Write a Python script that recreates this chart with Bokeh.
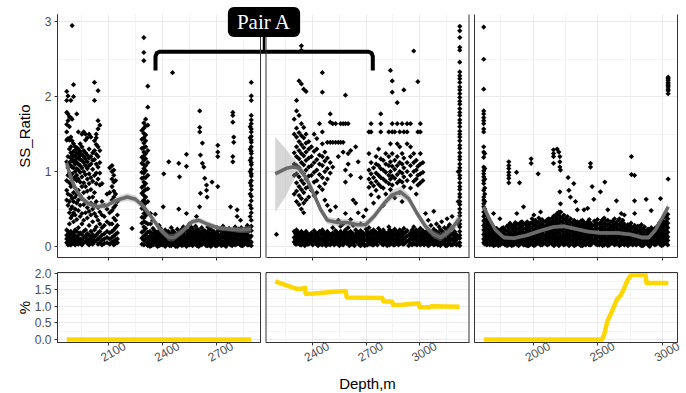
import math
from bokeh.plotting import figure
from bokeh.models import (Range1d, LinearAxis, FixedTicker, Grid, BoxAnnotation,
                          Label, LabelSet, ColumnDataSource, CustomJSTickFormatter)
from bokeh.core.properties import value
from bokeh.embed import file_html
from bokeh.resources import INLINE

# ======================= DATA =======================
# SS_Ratio scatter, one entry per depth column: (depth, [ratios at that depth])
p1_points = [
    (1865, [2.07, 1.95, 1.79, 1.63, 1.53, 1.42, 1.13, 0.88, 0.75, 0.62, 0.22, 0.15, 0.10, 0.05]),
    (1872, [2.01, 1.77, 1.68, 1.44, 1.20, 1.05, 0.95, 0.70, 0.55, 0.20, 0.12, 0.06, 0.02]),
    (1880, [1.73, 1.60, 1.42, 1.30, 1.12, 0.98, 0.85, 0.60, 0.45, 0.30, 0.17, 0.09, 0.03]),
    (1888, [1.95, 1.72, 1.46, 1.33, 1.25, 1.18, 1.08, 0.92, 0.80, 0.68, 0.50, 0.38, 0.20, 0.13, 0.07, 0.02]),
    (1895, [2.95, 1.70, 1.41, 1.22, 1.15, 1.06, 0.97, 0.83, 0.64, 0.53, 0.41, 0.16, 0.10, 0.04]),
    (1903, [2.16, 2.00, 1.37, 1.27, 1.20, 1.13, 1.05, 0.90, 0.72, 0.60, 0.45, 0.33, 0.18, 0.11, 0.05]),
    (1912, [1.33, 1.28, 1.22, 1.15, 1.10, 1.00, 0.93, 0.78, 0.66, 0.50, 0.42, 0.22, 0.14, 0.08, 0.02]),
    (1921, [1.77, 1.32, 1.25, 1.19, 1.12, 1.04, 0.95, 0.88, 0.70, 0.58, 0.36, 0.20, 0.12, 0.06]),
    (1930, [1.53, 1.30, 1.24, 1.18, 1.10, 1.02, 0.90, 0.75, 0.62, 0.48, 0.25, 0.15, 0.08, 0.03]),
    (1940, [1.37, 1.27, 1.21, 1.16, 1.08, 0.99, 0.86, 0.68, 0.55, 0.40, 0.18, 0.10, 0.05]),
    (1950, [1.50, 1.33, 1.23, 1.15, 1.05, 0.93, 0.80, 0.64, 0.44, 0.30, 0.16, 0.09, 0.02]),
    (1960, [1.53, 1.28, 1.20, 1.12, 1.00, 0.85, 0.72, 0.56, 0.35, 0.20, 0.12, 0.05]),
    (1970, [1.50, 1.42, 1.25, 1.17, 1.08, 0.96, 0.80, 0.60, 0.45, 0.22, 0.14, 0.07]),
    (1980, [1.45, 1.22, 1.13, 1.04, 0.90, 0.74, 0.52, 0.38, 0.17, 0.10, 0.04]),
    (1990, [1.50, 1.30, 1.18, 1.08, 0.97, 0.84, 0.65, 0.47, 0.28, 0.15, 0.08, 0.02]),
    (2000, [1.46, 1.20, 1.10, 0.92, 0.76, 0.58, 0.42, 0.20, 0.12, 0.06]),
    (2010, [1.25, 1.15, 1.03, 0.87, 0.66, 0.50, 0.33, 0.16, 0.09, 0.03]),
    (2020, [2.19, 1.95, 1.41, 1.28, 1.16, 0.95, 0.72, 0.56, 0.44, 0.22, 0.13, 0.06]),
    (2030, [1.50, 1.45, 1.36, 1.23, 1.10, 0.98, 0.84, 0.60, 0.40, 0.26, 0.15, 0.08]),
    (2040, [2.08, 1.68, 1.57, 1.33, 1.20, 1.06, 0.90, 0.52, 0.35, 0.18, 0.10, 0.03]),
    (2050, [1.62, 1.28, 1.12, 0.98, 0.82, 0.46, 0.30, 0.20, 0.12, 0.05]),
    (2062, [0.84, 0.60, 0.42, 0.25, 0.15, 0.08, 0.02]),
    (2075, [0.55, 0.40, 0.28, 0.17, 0.10, 0.04]),
    (2090, [0.70, 0.50, 0.33, 0.20, 0.12, 0.05]),
    (2105, [1.05, 0.72, 0.45, 0.30, 0.18, 0.10, 0.03]),
    (2118, [1.08, 1.00, 0.90, 0.80, 0.62, 0.48, 0.30, 0.20, 0.12, 0.06]),
    (2128, [1.02, 0.95, 0.86, 0.74, 0.66, 0.52, 0.38, 0.22, 0.14, 0.07, 0.02]),
    (2138, [0.88, 0.70, 0.55, 0.35, 0.25, 0.16, 0.09, 0.04]),
    (2148, [0.60, 0.42, 0.28, 0.18, 0.10, 0.05]),
    (2230, [0.24]),
    (2285, [1.55, 1.43, 1.31, 1.19, 1.11, 0.99, 0.91, 0.79, 0.71, 0.59, 0.51, 0.39, 0.31, 0.19, 0.11, 0.03]),
    (2296, [2.79, 2.59, 2.48, 1.65, 1.58, 1.51, 1.45, 1.38, 1.32, 1.26, 1.21, 1.15, 1.09, 1.04, 0.98, 0.92,
            0.86, 0.81, 0.74, 0.68, 0.62, 0.56, 0.51, 0.44, 0.38, 0.33, 0.26, 0.21, 0.14, 0.08, 0.02]),
    (2306, [1.70, 1.61, 1.49, 1.41, 1.33, 1.24, 1.17, 1.08, 1.01, 0.92, 0.84, 0.76, 0.66, 0.58, 0.48, 0.41,
            0.32, 0.24, 0.16, 0.10, 0.04]),
    (2318, [2.14, 1.86, 1.62, 1.28, 1.12, 0.95, 0.77, 0.60, 0.45, 0.30, 0.19, 0.12, 0.06, 0.01]),
    (2330, [0.20, 0.14, 0.09, 0.04, 0.00]), (2333, [0.44, 0.30]), (2345, [0.35]),
    (2347, [0.24, 0.17, 0.11, 0.06, 0.02]), (2360, [0.43]), (2364, [0.19, 0.13, 0.08, 0.03]),
    (2381, [0.28, 0.21, 0.15, 0.10, 0.05, 0.01]), (2398, [0.18, 0.12, 0.07, 0.02]),
    (2404, [0.53]), (2407, [0.97]), (2415, [0.22, 0.16, 0.10, 0.05, 0.00]),
    (2432, [0.20, 0.14, 0.09, 0.03]), (2435, [1.13]), (2449, [0.25, 0.17, 0.12, 0.06, 0.01]),
    (2456, [2.32]), (2466, [0.19, 0.13, 0.08, 0.02]), (2483, [0.23, 0.16, 0.10, 0.05, 0.00]),
    (2491, [1.11, 0.50]), (2495, [0.93]), (2500, [0.20, 0.15, 0.09, 0.04]),
    (2517, [0.26, 0.18, 0.12, 0.07, 0.02]), (2534, [1.23, 1.07, 0.44, 0.21, 0.15, 0.10, 0.05, 0.00]),
    (2551, [0.30, 0.22, 0.16, 0.11, 0.06, 0.02]), (2568, [0.24, 0.17, 0.12, 0.07, 0.01]),
    (2585, [0.27, 0.20, 0.14, 0.08, 0.03]), (2590, [0.40]),
    (2602, [0.22, 0.16, 0.10, 0.05, 0.00]), (2607, [0.53]), (2608, [1.81, 1.59, 1.53]),
    (2612, [1.22, 0.71]), (2619, [0.25, 0.18, 0.12, 0.06, 0.02]), (2623, [1.38, 1.11]),
    (2631, [1.06]), (2636, [0.91, 0.21, 0.15, 0.09, 0.04]), (2646, [0.82, 0.75]), (2649, [0.66]),
    (2653, [0.26, 0.19, 0.13, 0.07, 0.01]), (2670, [0.23, 0.16, 0.10, 0.05, 0.00]),
    (2677, [0.86]), (2687, [0.20, 0.14, 0.09, 0.03]),
    (2704, [0.25, 0.18, 0.12, 0.06, 0.01]), (2709, [1.35, 1.26, 1.20, 0.80]),
    (2721, [0.22, 0.15, 0.10, 0.04]), (2738, [0.27, 0.19, 0.13, 0.07, 0.02]),
    (2755, [0.21, 0.15, 0.09, 0.04, 0.00]), (2772, [0.24, 0.17, 0.11, 0.05]),
    (2780, [0.53]), (2789, [0.22, 0.16, 0.10, 0.05, 0.01]),
    (2793, [1.79, 1.75, 1.66, 1.20, 1.13]), (2798, [1.46, 1.39]),
    (2806, [0.26, 0.19, 0.12, 0.07, 0.02]), (2817, [0.49, 0.40]),
    (2823, [0.23, 0.16, 0.10, 0.04]), (2836, [0.35]), (2840, [0.25, 0.18, 0.12, 0.06, 0.01]),
    (2857, [0.21, 0.15, 0.09, 0.03]), (2874, [0.28, 0.20, 0.14, 0.08, 0.02]),
    (2890, [1.60, 1.45, 1.30, 1.15, 1.00, 0.85, 0.70, 0.55, 0.40, 0.25, 0.12, 0.04]),
    (2896, [2.19, 2.01, 1.95, 1.75, 1.69, 1.64, 1.57, 1.53, 1.47, 1.42, 1.39, 1.33, 1.27, 1.24, 1.18, 1.12,
            1.09, 1.03, 0.97, 0.94, 0.88, 0.81, 0.76, 0.67, 0.61, 0.51, 0.45, 0.35, 0.27, 0.21, 0.14, 0.06, 0.01]),
]
# extra columns inside the solid low band of panel 1
p1_band_fill = [
    (2338, [0.17, 0.11, 0.06, 0.01]), (2355, [0.21, 0.14, 0.08, 0.03]), (2372, [0.16, 0.10, 0.05, 0.00]),
    (2389, [0.24, 0.18, 0.12, 0.07, 0.02]), (2406, [0.15, 0.09, 0.04]), (2423, [0.19, 0.13, 0.07, 0.02]),
    (2440, [0.17, 0.11, 0.06, 0.01]), (2457, [0.21, 0.15, 0.09, 0.03]), (2474, [0.16, 0.10, 0.05, 0.00]),
    (2491, [0.19, 0.13, 0.07, 0.02]), (2508, [0.23, 0.17, 0.12, 0.06, 0.01]), (2525, [0.22, 0.15, 0.09, 0.03]),
    (2542, [0.18, 0.12, 0.07, 0.02]), (2559, [0.26, 0.19, 0.13, 0.08, 0.03]), (2576, [0.20, 0.14, 0.09, 0.04]),
    (2593, [0.23, 0.17, 0.11, 0.05, 0.01]), (2610, [0.19, 0.13, 0.07, 0.02]), (2627, [0.21, 0.15, 0.09, 0.04]),
    (2644, [0.18, 0.12, 0.06, 0.01]), (2661, [0.22, 0.16, 0.10, 0.04]), (2678, [0.19, 0.13, 0.07, 0.02]),
    (2695, [0.17, 0.11, 0.06, 0.01]), (2712, [0.21, 0.15, 0.09, 0.03]), (2729, [0.24, 0.17, 0.12, 0.06, 0.01]),
    (2746, [0.18, 0.12, 0.07, 0.02]), (2763, [0.20, 0.14, 0.08, 0.03]), (2780, [0.19, 0.13, 0.07, 0.02]),
    (2797, [0.22, 0.16, 0.10, 0.04]), (2814, [0.20, 0.14, 0.08, 0.03]), (2831, [0.21, 0.15, 0.09, 0.03]),
    (2848, [0.18, 0.12, 0.06, 0.01]), (2865, [0.24, 0.17, 0.11, 0.05]), (2882, [0.20, 0.14, 0.08, 0.02]),
]

p2_points = [
    (2200, [0.16]),
    (2299, [1.70, 1.50, 1.25, 1.10, 0.95, 0.70, 0.20, 0.12, 0.06]),
    (2312, [1.95, 1.81, 1.58, 1.46, 1.33, 1.20, 1.08, 0.97, 0.85, 0.74, 0.60, 0.22, 0.15, 0.08, 0.03]),
    (2326, [2.21, 1.75, 1.52, 1.40, 1.28, 1.17, 1.05, 0.93, 0.80, 0.68, 0.56, 0.18, 0.11, 0.05]),
    (2339, [2.68, 2.62, 2.17, 1.64, 1.48, 1.36, 1.24, 1.12, 1.00, 0.88, 0.76, 0.64, 0.50, 0.20, 0.14, 0.07, 0.02]),
    (2352, [2.10, 1.59, 1.45, 1.32, 1.21, 1.09, 0.97, 0.84, 0.72, 0.58, 0.45, 0.17, 0.10, 0.04]),
    (2365, [2.07, 1.50, 1.38, 1.26, 1.15, 1.02, 0.90, 0.78, 0.62, 0.20, 0.13, 0.06]),
    (2380, [1.40, 1.30, 1.18, 1.06, 0.94, 0.80, 0.66, 0.16, 0.09, 0.03]),
    (2395, [1.33, 1.20, 1.08, 0.95, 0.75, 0.18, 0.11, 0.05]),
    (2410, [1.50, 1.27, 1.12, 0.99, 0.86, 0.68, 0.21, 0.14, 0.07]),
    (2425, [1.44, 1.30, 1.16, 1.02, 0.88, 0.72, 0.17, 0.10, 0.03]),
    (2440, [1.64, 1.22, 1.10, 0.96, 0.80, 0.20, 0.12, 0.05]),
    (2456, [2.32, 2.06, 1.53, 1.37, 1.20, 1.08, 0.92, 0.76, 0.22, 0.15, 0.08, 0.02]),
    (2470, [1.26, 1.14, 1.00, 0.84, 0.62, 0.18, 0.11, 0.04]),
    (2484, [1.39, 1.18, 1.04, 0.90, 0.55, 0.20, 0.13, 0.06]),
    (2500, [1.77, 1.66, 1.39, 1.12, 0.98, 0.48, 0.16, 0.09, 0.02]),
    (2514, [1.64, 1.39, 1.06, 0.25, 0.18, 0.11, 0.05]),
    (2530, [1.64, 1.39, 0.53, 0.21, 0.14, 0.07]),
    (2545, [1.39, 1.20, 0.35, 0.17, 0.10, 0.03]),
    (2558, [1.64, 1.39, 0.27, 0.20, 0.13, 0.06]),
    (2572, [1.64, 1.39, 1.26, 0.30, 0.16, 0.09, 0.02]),
    (2585, [2.02, 1.64, 1.02, 0.86, 0.44, 0.22, 0.14, 0.07]),
    (2600, [1.64, 1.24, 1.10, 0.25, 0.18, 0.11, 0.04]),
    (2614, [1.28, 0.95, 0.36, 0.20, 0.13, 0.06]),
    (2628, [0.62, 0.28, 0.17, 0.10, 0.03]),
    (2642, [1.33, 0.58, 0.22, 0.15, 0.08]),
    (2656, [1.13, 0.45, 0.19, 0.12, 0.05]),
    (2670, [0.92, 0.30, 0.21, 0.14, 0.07, 0.01]),
    (2685, [0.40, 0.18, 0.11, 0.04]),
    (2700, [0.49, 0.23, 0.16, 0.09, 0.02]),
    (2716, [1.53, 1.24, 1.02, 0.90, 0.79, 0.25, 0.17, 0.10, 0.05]),
    (2728, [1.64, 1.53, 1.12, 0.97, 0.85, 0.69, 0.20, 0.13, 0.06]),
    (2742, [1.05, 0.92, 0.81, 0.58, 0.22, 0.15, 0.08, 0.02]),
    (2756, [1.20, 1.10, 0.98, 0.87, 0.75, 0.19, 0.12, 0.05]),
    (2770, [1.30, 1.08, 0.95, 0.83, 0.66, 0.24, 0.16, 0.09]),
    (2782, [1.77, 1.64, 1.53, 1.17, 1.04, 0.92, 0.80, 0.20, 0.13, 0.06]),
    (2796, [1.15, 1.02, 0.90, 0.78, 0.55, 0.22, 0.15, 0.08, 0.02]),
    (2810, [1.24, 1.10, 0.99, 0.87, 0.70, 0.18, 0.11, 0.04]),
    (2827, [1.53, 1.20, 1.08, 0.95, 0.84, 0.26, 0.19, 0.12, 0.05]),
    (2836, [2.35, 1.37, 1.13, 1.00, 0.90, 0.76, 0.21, 0.14, 0.07]),
    (2846, [2.21, 2.06, 1.64, 1.53, 1.24, 1.07, 0.94, 0.82, 0.20, 0.13, 0.06]),
    (2860, [1.53, 1.15, 1.03, 0.91, 0.65, 0.23, 0.16, 0.09, 0.02]),
    (2874, [1.92, 1.64, 1.37, 1.20, 1.08, 0.96, 0.85, 0.19, 0.12, 0.05]),
    (2888, [1.53, 1.33, 1.12, 1.00, 0.88, 0.72, 0.22, 0.15, 0.08]),
    (2901, [1.64, 1.24, 1.10, 0.98, 0.86, 0.60, 0.20, 0.13, 0.06]),
    (2911, [2.09, 1.53, 1.18, 1.05, 0.93, 0.80, 0.24, 0.17, 0.10, 0.03]),
    (2929, [1.64, 1.53, 1.37, 1.12, 1.00, 0.88, 0.21, 0.14, 0.07]),
    (2948, [1.64, 1.33, 1.20, 1.08, 0.95, 0.78, 0.18, 0.11, 0.04]),
    (2966, [2.61, 1.24, 1.12, 1.00, 0.87, 0.26, 0.19, 0.12, 0.05]),
    (2980, [1.15, 1.02, 0.90, 0.70, 0.22, 0.15, 0.08]),
    (2989, [2.20, 1.53, 1.07, 0.95, 0.82, 0.20, 0.13, 0.06]),
    (3003, [1.64, 1.53, 1.24, 1.10, 0.97, 0.85, 0.24, 0.16, 0.09, 0.02]),
    (3017, [1.12, 0.99, 0.88, 0.21, 0.14, 0.07]),
    (3032, [0.44, 0.19, 0.12, 0.05]),
    (3047, [0.35, 0.22, 0.15, 0.08, 0.01]),
    (3062, [0.28, 0.18, 0.11, 0.04]),
    (3078, [0.47, 0.23, 0.16, 0.09, 0.02]),
    (3093, [0.30, 0.20, 0.13, 0.06]),
    (3108, [0.26, 0.17, 0.10, 0.03]),
    (3122, [0.33, 0.21, 0.14, 0.07]),
    (3137, [0.25, 0.18, 0.11, 0.04]),
    (3152, [0.37, 0.22, 0.15, 0.08, 0.01]),
    (3166, [0.29, 0.19, 0.12, 0.05]),
    (3180, [0.40, 0.24, 0.16, 0.09, 0.02]),
    (3194, [0.20, 0.13, 0.06]),
    (3214, [1.00, 0.60, 0.30, 0.12, 0.04]),
    (3223, [2.94, 2.88, 2.79, 2.66, 2.62, 2.46, 2.33, 2.28, 2.24, 2.19, 2.13, 2.09, 2.04, 1.99, 1.94, 1.90,
            1.84, 1.79, 1.75, 1.69, 1.65, 1.60, 1.54, 1.50, 1.46, 1.41, 1.35, 1.31, 1.25, 1.20, 1.16, 1.10,
            1.05, 1.01, 0.95, 0.91, 0.85, 0.80, 0.76, 0.70, 0.66, 0.60, 0.56, 0.50, 0.45, 0.41, 0.35, 0.30,
            0.26, 0.20, 0.15, 0.11, 0.05, 0.01]),
]
p2_band_fill = [
    (2306, [0.17, 0.09, 0.03]), (2319, [0.19, 0.12, 0.05]), (2332, [0.16, 0.08, 0.02]),
    (2346, [0.17, 0.11, 0.04]), (2358, [0.15, 0.07, 0.01]), (2372, [0.17, 0.10, 0.03]),
    (2388, [0.13, 0.06]), (2402, [0.15, 0.08, 0.02]), (2418, [0.18, 0.11, 0.04]),
    (2432, [0.14, 0.07, 0.01]), (2448, [0.17, 0.09, 0.03]), (2463, [0.19, 0.12, 0.05]),
    (2477, [0.15, 0.08, 0.01]), (2492, [0.17, 0.10, 0.03]), (2507, [0.13, 0.06]),
    (2522, [0.15, 0.08, 0.02]), (2537, [0.18, 0.11, 0.04]), (2551, [0.14, 0.07, 0.01]),
    (2565, [0.17, 0.10, 0.03]), (2578, [0.19, 0.12, 0.05]), (2592, [0.18, 0.11, 0.04]),
    (2607, [0.15, 0.08, 0.01]), (2621, [0.17, 0.10, 0.03]), (2635, [0.14, 0.07, 0.01]),
    (2649, [0.19, 0.12, 0.05]), (2663, [0.16, 0.09, 0.02]), (2678, [0.18, 0.11, 0.04]),
    (2692, [0.15, 0.08, 0.01]), (2708, [0.20, 0.13, 0.07, 0.02]), (2722, [0.17, 0.10, 0.03]),
    (2735, [0.16, 0.09, 0.02]), (2749, [0.19, 0.12, 0.05]), (2763, [0.16, 0.09, 0.02]),
    (2776, [0.20, 0.13, 0.06]), (2789, [0.17, 0.10, 0.03]), (2803, [0.18, 0.11, 0.05]),
    (2818, [0.15, 0.08, 0.01]), (2831, [0.22, 0.15, 0.09, 0.02]), (2841, [0.18, 0.10, 0.04]),
    (2853, [0.16, 0.09, 0.02]), (2867, [0.20, 0.13, 0.06]), (2881, [0.16, 0.08, 0.02]),
    (2894, [0.18, 0.11, 0.04]), (2906, [0.17, 0.10, 0.03]), (2920, [0.19, 0.12, 0.05]),
    (2938, [0.15, 0.08, 0.01]), (2957, [0.22, 0.15, 0.09, 0.02]), (2973, [0.17, 0.10, 0.03]),
    (2984, [0.16, 0.09, 0.02]), (2996, [0.20, 0.13, 0.06]), (3010, [0.18, 0.11, 0.04]),
    (3024, [0.16, 0.09, 0.02]), (3039, [0.18, 0.12, 0.05]), (3054, [0.15, 0.08, 0.02]),
    (3070, [0.20, 0.13, 0.06]), (3085, [0.17, 0.10, 0.03]), (3100, [0.16, 0.09, 0.02]),
    (3115, [0.22, 0.14, 0.07, 0.01]), (3129, [0.18, 0.11, 0.04]), (3144, [0.15, 0.08, 0.01]),
    (3159, [0.26, 0.18, 0.11, 0.04]), (3173, [0.16, 0.09, 0.02]), (3187, [0.17, 0.10, 0.03]),
    (3204, [0.16, 0.09, 0.02]),
]

p3_points = [
    (1617, [2.93, 2.50, 2.10, 1.81, 1.77, 1.72, 1.68, 1.64, 1.57, 1.53, 1.33, 1.26, 1.19, 1.06, 1.01, 0.97,
            0.93, 0.88, 0.84, 0.75, 0.66, 0.62, 0.57, 0.53, 0.46, 0.40, 0.34, 0.28, 0.22, 0.16, 0.10, 0.05]),
    (1625, [1.24, 1.04, 0.90, 0.78, 0.70, 0.60, 0.50, 0.42, 0.36, 0.30, 0.25, 0.19, 0.13, 0.08, 0.03]),
    (1641, [0.41, 0.35, 0.29, 0.23, 0.17, 0.12, 0.07, 0.02]),
    (1664, [0.33, 0.27, 0.21, 0.16, 0.11, 0.06, 0.02]),
    (1693, [0.44, 0.26, 0.20, 0.15, 0.10, 0.05, 0.01]),
    (1717, [0.24, 0.19, 0.13, 0.08, 0.03]),
    (1742, [0.37]),
    (1745, [0.22, 0.17, 0.12, 0.07, 0.02]),
    (1769, [0.25, 0.19, 0.14, 0.09, 0.04]),
    (1797, [0.27, 0.21, 0.15, 0.10, 0.05, 0.01]),
    (1811, [1.13, 1.08, 1.04, 0.99, 0.95, 0.91, 0.85]),
    (1820, [0.31, 0.25, 0.19, 0.13, 0.08, 0.03]),
    (1849, [0.29, 0.23, 0.17, 0.12, 0.06, 0.02]),
    (1871, [0.99]),
    (1873, [0.44, 0.30, 0.24, 0.18, 0.13, 0.08, 0.03]),
    (1894, [0.85]),
    (1901, [0.32, 0.26, 0.20, 0.14, 0.09, 0.04]),
    (1925, [0.53, 0.30, 0.24, 0.18, 0.12, 0.07, 0.02]),
    (1953, [0.33, 0.27, 0.21, 0.15, 0.10, 0.05, 0.01]),
    (1977, [0.31, 0.25, 0.19, 0.13, 0.08, 0.03]),
    (1984, [1.17, 1.11]),
    (2005, [0.42, 0.34, 0.28, 0.22, 0.16, 0.11, 0.05, 0.01]),
    (2029, [0.32, 0.26, 0.20, 0.14, 0.09, 0.04]),
    (2038, [0.97]),
    (2057, [0.46, 0.35, 0.29, 0.23, 0.17, 0.12, 0.06, 0.02]),
    (2081, [0.33, 0.27, 0.21, 0.15, 0.10, 0.04]),
    (2109, [0.36, 0.30, 0.24, 0.18, 0.12, 0.07, 0.02]),
    (2133, [0.34, 0.28, 0.22, 0.16, 0.11, 0.05]),
    (2157, [1.29, 1.24, 1.20, 1.11]),
    (2161, [0.41, 0.35, 0.29, 0.23, 0.17, 0.12, 0.06, 0.01]),
    (2185, [1.30, 0.44, 0.37, 0.31, 0.25, 0.19, 0.13, 0.08, 0.03]),
    (2198, [1.26, 0.46]),
    (2206, [1.20, 1.13, 1.06, 0.73]),
    (2211, [1.02, 0.57]),
    (2213, [0.46, 0.39, 0.33, 0.27, 0.21, 0.15, 0.10, 0.04]),
    (2237, [0.42, 0.36, 0.30, 0.24, 0.18, 0.12, 0.07, 0.02]),
    (2265, [0.40, 0.34, 0.28, 0.22, 0.16, 0.11, 0.05]),
    (2270, [0.92]), (2276, [0.75]), (2288, [0.66]),
    (2289, [0.37, 0.31, 0.25, 0.19, 0.14, 0.08, 0.03]),
    (2314, [0.84]),
    (2317, [0.35, 0.29, 0.23, 0.17, 0.12, 0.06, 0.01]),
    (2327, [0.60]),
    (2341, [0.49, 0.33, 0.27, 0.21, 0.15, 0.10, 0.04]),
    (2369, [0.34, 0.28, 0.22, 0.16, 0.11, 0.05, 0.01]),
    (2393, [0.49, 0.32, 0.26, 0.20, 0.14, 0.09, 0.03]),
    (2421, [0.51, 0.33, 0.27, 0.21, 0.15, 0.10, 0.04]),
    (2443, [1.11, 1.06]),
    (2445, [0.31, 0.25, 0.19, 0.13, 0.08, 0.02]),
    (2456, [0.80]), (2469, [0.63]),
    (2473, [0.34, 0.28, 0.22, 0.16, 0.10, 0.05]),
    (2497, [0.36, 0.30, 0.24, 0.18, 0.12, 0.07, 0.02]),
    (2520, [0.73]),
    (2525, [0.33, 0.27, 0.21, 0.15, 0.10, 0.04]),
    (2549, [0.38, 0.31, 0.25, 0.19, 0.13, 0.08, 0.02]),
    (2554, [0.86]),
    (2577, [0.49, 0.35, 0.29, 0.23, 0.17, 0.11, 0.06, 0.01]),
    (2601, [0.33, 0.27, 0.21, 0.15, 0.10, 0.04]),
    (2629, [0.37, 0.31, 0.25, 0.19, 0.13, 0.07, 0.02]),
    (2644, [0.61]),
    (2653, [0.34, 0.28, 0.22, 0.16, 0.11, 0.05]),
    (2681, [0.44, 0.32, 0.26, 0.20, 0.14, 0.09, 0.03]),
    (2705, [0.42, 0.30, 0.24, 0.18, 0.12, 0.07, 0.02]),
    (2733, [0.29, 0.23, 0.17, 0.12, 0.06, 0.01]),
    (2757, [0.31, 0.25, 0.19, 0.13, 0.08, 0.03]),
    (2760, [1.20, 0.96]),
    (2784, [0.95, 0.61]),
    (2785, [0.44, 0.28, 0.22, 0.16, 0.11, 0.05]),
    (2809, [0.27, 0.21, 0.15, 0.10, 0.04]),
    (2837, [0.29, 0.23, 0.17, 0.11, 0.06, 0.01]),
    (2861, [0.26, 0.20, 0.14, 0.09, 0.03]),
    (2874, [0.63]),
    (2889, [0.23, 0.18, 0.12, 0.07, 0.02]),
    (2913, [0.48, 0.25, 0.19, 0.13, 0.08, 0.03]),
    (2941, [0.24, 0.18, 0.13, 0.07, 0.02]),
    (2965, [0.28, 0.22, 0.16, 0.11, 0.05]),
    (2985, [0.64]),
    (2993, [0.35, 0.29, 0.23, 0.17, 0.12, 0.06, 0.01]),
    (3017, [0.40, 0.33, 0.27, 0.21, 0.15, 0.10, 0.04]),
    (3041, [0.43, 0.37, 0.31, 0.25, 0.19, 0.13, 0.08, 0.02]),
    (3044, [2.26, 2.24, 2.22, 2.19, 2.17, 2.15, 2.13, 2.10, 2.08, 2.04, 0.90]),
]
p3_band_fill = [
    (1652, [0.38, 0.32, 0.26, 0.20, 0.14, 0.09, 0.04]), (1678, [0.30, 0.24, 0.18, 0.13, 0.08, 0.03]),
    (1705, [0.23, 0.17, 0.12, 0.07, 0.02]), (1731, [0.21, 0.16, 0.10, 0.05, 0.01]),
    (1757, [0.24, 0.19, 0.14, 0.09, 0.04]), (1783, [0.22, 0.16, 0.11, 0.06, 0.02]),
    (1808, [0.28, 0.22, 0.17, 0.12, 0.07, 0.02]), (1834, [0.27, 0.21, 0.15, 0.10, 0.05, 0.01]),
    (1861, [0.32, 0.26, 0.20, 0.15, 0.10, 0.05]), (1887, [0.29, 0.23, 0.17, 0.11, 0.06, 0.01]),
    (1913, [0.33, 0.27, 0.21, 0.15, 0.10, 0.05]), (1939, [0.30, 0.24, 0.18, 0.12, 0.07, 0.02]),
    (1965, [0.28, 0.22, 0.16, 0.11, 0.06, 0.01]), (1991, [0.37, 0.31, 0.25, 0.19, 0.13, 0.08, 0.03]),
    (2017, [0.35, 0.29, 0.23, 0.17, 0.11, 0.06, 0.02]), (2043, [0.38, 0.32, 0.26, 0.20, 0.14, 0.09, 0.04]),
    (2069, [0.36, 0.30, 0.24, 0.18, 0.12, 0.07, 0.02]), (2095, [0.33, 0.27, 0.21, 0.15, 0.09, 0.04]),
    (2121, [0.37, 0.31, 0.25, 0.19, 0.14, 0.08, 0.03]), (2147, [0.38, 0.32, 0.26, 0.20, 0.14, 0.09, 0.03]),
    (2173, [0.40, 0.34, 0.28, 0.22, 0.16, 0.10, 0.05]), (2199, [0.42, 0.36, 0.30, 0.24, 0.18, 0.12, 0.07, 0.01]),
    (2225, [0.39, 0.33, 0.27, 0.21, 0.15, 0.09, 0.04]), (2251, [0.37, 0.31, 0.25, 0.19, 0.14, 0.08, 0.03]),
    (2277, [0.34, 0.28, 0.22, 0.16, 0.11, 0.06, 0.01]), (2303, [0.32, 0.26, 0.20, 0.14, 0.09, 0.04]),
    (2329, [0.30, 0.24, 0.18, 0.13, 0.07, 0.02]), (2355, [0.31, 0.25, 0.19, 0.13, 0.08, 0.03]),
    (2381, [0.35, 0.29, 0.23, 0.17, 0.12, 0.06, 0.01]), (2407, [0.30, 0.24, 0.18, 0.12, 0.07, 0.02]),
    (2433, [0.36, 0.30, 0.24, 0.18, 0.13, 0.07, 0.02]), (2459, [0.28, 0.22, 0.16, 0.11, 0.05]),
    (2485, [0.31, 0.25, 0.19, 0.13, 0.08, 0.03]), (2511, [0.30, 0.24, 0.18, 0.13, 0.07, 0.02]),
    (2537, [0.36, 0.30, 0.24, 0.18, 0.12, 0.07, 0.01]), (2563, [0.34, 0.28, 0.22, 0.16, 0.10, 0.05]),
    (2589, [0.30, 0.24, 0.18, 0.13, 0.07, 0.02]), (2615, [0.34, 0.28, 0.22, 0.16, 0.10, 0.05]),
    (2641, [0.31, 0.25, 0.19, 0.13, 0.08, 0.03]), (2667, [0.37, 0.29, 0.23, 0.17, 0.12, 0.06, 0.01]),
    (2693, [0.35, 0.27, 0.21, 0.15, 0.10, 0.04]), (2719, [0.26, 0.20, 0.15, 0.09, 0.04]),
    (2745, [0.28, 0.22, 0.16, 0.10, 0.05]), (2771, [0.25, 0.19, 0.14, 0.08, 0.02]),
    (2797, [0.24, 0.18, 0.12, 0.07, 0.02]), (2823, [0.26, 0.20, 0.14, 0.08, 0.03]),
    (2849, [0.23, 0.17, 0.12, 0.06, 0.01]), (2875, [0.21, 0.15, 0.10, 0.05]),
    (2901, [0.22, 0.16, 0.10, 0.05, 0.00]), (2927, [0.21, 0.16, 0.10, 0.05]),
    (2953, [0.25, 0.19, 0.13, 0.08, 0.03]), (2979, [0.32, 0.26, 0.20, 0.14, 0.08, 0.03]),
    (3005, [0.38, 0.31, 0.25, 0.19, 0.14, 0.08, 0.02]), (3029, [0.40, 0.34, 0.28, 0.22, 0.16, 0.11, 0.05]),
]

# smoothed SS_Ratio trend with its confidence band
p1_fit_depth = [1865, 1886, 1914, 1951, 1988, 2035, 2091, 2147, 2203, 2249, 2296, 2342, 2389, 2435, 2463,
                2510, 2566, 2603, 2649, 2705, 2780, 2836, 2896]
p1_fit = [1.11, 0.93, 0.77, 0.64, 0.57, 0.53, 0.55, 0.62, 0.66, 0.63, 0.53, 0.38, 0.22, 0.12, 0.12,
          0.20, 0.33, 0.35, 0.30, 0.25, 0.23, 0.22, 0.23]
p1_fit_lo = [1.02, 0.86, 0.72, 0.595, 0.53, 0.49, 0.51, 0.575, 0.61, 0.58, 0.485, 0.34, 0.18, 0.07, 0.07,
             0.155, 0.29, 0.31, 0.26, 0.215, 0.195, 0.18, 0.18]
p1_fit_hi = [1.20, 1.00, 0.82, 0.685, 0.61, 0.57, 0.59, 0.665, 0.71, 0.68, 0.575, 0.42, 0.26, 0.17, 0.17,
             0.245, 0.37, 0.39, 0.34, 0.285, 0.265, 0.26, 0.28]

p2_fit_depth = [2193, 2252, 2289, 2317, 2336, 2373, 2410, 2447, 2484, 2540, 2595, 2651, 2697, 2744, 2799,
                2846, 2892, 2938, 2985, 3031, 3078, 3115, 3152, 3189, 3223]
p2_fit = [0.97, 1.04, 1.06, 1.05, 1.02, 0.88, 0.69, 0.49, 0.35, 0.32, 0.32, 0.29, 0.29, 0.40, 0.57,
          0.69, 0.73, 0.64, 0.44, 0.27, 0.16, 0.12, 0.18, 0.27, 0.38]
p2_fit_lo = [0.46, 0.67, 0.85, 0.96, 0.96, 0.82, 0.64, 0.44, 0.30, 0.27, 0.27, 0.24, 0.24, 0.35, 0.52,
             0.63, 0.66, 0.58, 0.39, 0.22, 0.11, 0.07, 0.13, 0.21, 0.30]
p2_fit_hi = [1.46, 1.30, 1.19, 1.12, 1.08, 0.94, 0.74, 0.54, 0.40, 0.37, 0.37, 0.34, 0.34, 0.45, 0.62,
             0.75, 0.80, 0.70, 0.49, 0.32, 0.21, 0.17, 0.23, 0.33, 0.46]

p3_fit_depth = [1617, 1657, 1708, 1773, 1850, 1953, 2056, 2159, 2237, 2314, 2417, 2520, 2649, 2753, 2843,
                2894, 2946, 2998, 3045]
p3_fit = [0.53, 0.38, 0.22, 0.12, 0.11, 0.15, 0.21, 0.26, 0.27, 0.24, 0.20, 0.18, 0.18, 0.16, 0.12,
          0.12, 0.22, 0.38, 0.53]
p3_fit_lo = [0.48, 0.345, 0.19, 0.09, 0.085, 0.125, 0.185, 0.235, 0.245, 0.215, 0.175, 0.155, 0.155, 0.135,
             0.09, 0.09, 0.19, 0.34, 0.48]
p3_fit_hi = [0.58, 0.415, 0.25, 0.15, 0.135, 0.175, 0.235, 0.285, 0.295, 0.265, 0.225, 0.205, 0.205, 0.185,
             0.15, 0.15, 0.25, 0.42, 0.58]

# percentage curves (bottom row)
p1_pct_depth = [1865, 2896]
p1_pct = [0.0, 0.0]
p2_pct_depth = [2193, 2317, 2345, 2360, 2363, 2410, 2521, 2586, 2592, 2790, 2798, 2846, 2851, 2901, 2994,
                3000, 3054, 3063, 3223]
p2_pct = [1.75, 1.52, 1.54, 1.56, 1.38, 1.39, 1.44, 1.46, 1.27, 1.25, 1.15, 1.14, 1.04, 1.05, 1.09,
          0.97, 0.97, 1.00, 0.99]
p3_pct_depth = [1617, 2533, 2551, 2572, 2611, 2649, 2675, 2701, 2727, 2758, 2869, 2877, 3045]
p3_pct = [0.0, 0.0, 0.18, 0.53, 0.87, 1.22, 1.32, 1.52, 1.77, 1.95, 1.95, 1.70, 1.70]

# ticks and labels
ratio_ticks = [0, 1, 2, 3]
ratio_minor = [0.5, 1.5, 2.5]
pct_ticks = [0, 0.5, 1, 1.5, 2]
pct_minor = [0.25, 0.75, 1.25, 1.75]
pct_tick_labels = ["0.0", "0.5", "1.0", "1.5", "2.0"]
pct_axis_limits = (-0.09, 2.02)
p1_depth_ticks = [2100, 2400, 2700]
p2_depth_ticks = [2400, 2700, 3000]
p3_depth_ticks = [2000, 2500, 3000]
p1_depth_minor = [1950, 2250, 2550, 2850]
p2_depth_minor = [2250, 2550, 2850, 3150]
p3_depth_minor = [1750, 2250, 2750]
pair_label = "Pair A"
ratio_title = "SS_Ratio"
pct_title = "%"
depth_title = "Depth,m"

# ======================= LAYOUT / STYLE =======================
FW, FH = 686, 393                       # the frame covers the whole canvas
PANEL_X = [(57, 260), (265.5, 468.5), (474, 677)]
TOP_Y = (14, 257)                       # top row panels (screen px, top/bottom)
BOT_Y = (272, 342)                      # bottom row panels
NAMES = ["default", "p2", "p3"]
AX = "#333333"
GRID = "#EBEBEB"
GRID_MINOR = "#F4F4F4"
TICK_TXT = "#4D4D4D"
FONT = "Liberation Sans"


def flatten(cols):
    xs, ys = [], []
    for d, vs in cols:
        xs.extend([d] * len(vs))
        ys.extend(vs)
    return xs, ys


def expand(lo, hi, frac=0.05):
    pad = (hi - lo) * frac
    return lo - pad, hi + pad


def ext_x(lims, px):
    lo, hi = lims
    a, b = px
    k = (hi - lo) / (b - a)
    return Range1d(start=lo - a * k, end=hi + (FW - b) * k)


def ext_y(lims, py):
    lo, hi = lims
    t, b = py
    k = (hi - lo) / (b - t)
    return Range1d(start=lo - (FH - b) * k, end=hi + t * k)


scatter = [flatten(p1_points + p1_band_fill), flatten(p2_points + p2_band_fill),
           flatten(p3_points + p3_band_fill)]
pct_lines = [(p1_pct_depth, p1_pct), (p2_pct_depth, p2_pct), (p3_pct_depth, p3_pct)]
fits = [(p1_fit_depth, p1_fit, p1_fit_lo, p1_fit_hi),
        (p2_fit_depth, p2_fit, p2_fit_lo, p2_fit_hi),
        (p3_fit_depth, p3_fit, p3_fit_lo, p3_fit_hi)]
dticks = [p1_depth_ticks, p2_depth_ticks, p3_depth_ticks]
dminor = [p1_depth_minor, p2_depth_minor, p3_depth_minor]

panel_lims = []
for (xs, _), (ld, _) in zip(scatter, pct_lines):
    allx = list(xs) + list(ld)
    panel_lims.append(expand(min(allx), max(allx)))

all_ratio = [v for _, ys in scatter for v in ys]
ylo1, yhi1 = expand(min(all_ratio), max(all_ratio))
ylo2, yhi2 = pct_axis_limits

xr = [ext_x(l, px) for l, px in zip(panel_lims, PANEL_X)]
yr_top = ext_y((ylo1, yhi1), TOP_Y)
yr_bot = ext_y((ylo2, yhi2), BOT_Y)


def X(sx):   # screen px -> panel-1 depth coordinate
    return xr[0].start + sx * (xr[0].end - xr[0].start) / FW


def Y(sy):   # screen px -> SS_Ratio coordinate
    return yr_top.end - sy * (yr_top.end - yr_top.start) / FH


p = figure(width=FW, height=FH, x_range=xr[0], y_range=yr_top, x_axis_type=None, y_axis_type=None,
           output_backend="svg", toolbar_location=None, min_border=0,
           min_border_left=0, min_border_right=0, min_border_top=0, min_border_bottom=0)
p.extra_x_ranges = {"p2": xr[1], "p3": xr[2]}
p.extra_y_ranges = {"pct": yr_bot}
p.outline_line_color = None
p.background_fill_color = "white"
p.border_fill_color = "white"

# grids
p.add_layout(Grid(dimension=1, ticker=FixedTicker(ticks=ratio_ticks, minor_ticks=ratio_minor),
                  grid_line_color=GRID, minor_grid_line_color=GRID_MINOR))
p.add_layout(Grid(dimension=1, y_range_name="pct", ticker=FixedTicker(ticks=pct_ticks, minor_ticks=pct_minor),
                  grid_line_color=GRID, minor_grid_line_color=GRID_MINOR))
for i, name in enumerate(NAMES):
    p.add_layout(Grid(dimension=0, x_range_name=name,
                      ticker=FixedTicker(ticks=dticks[i], minor_ticks=dminor[i]),
                      grid_line_color=GRID, minor_grid_line_color=GRID_MINOR))

# white out everything outside the six panels
white = dict(fill_color="white", fill_alpha=1.0, line_color=None, level="underlay")
for kw in [dict(right=X(PANEL_X[0][0])),
           dict(left=X(PANEL_X[0][1]), right=X(PANEL_X[1][0])),
           dict(left=X(PANEL_X[1][1]), right=X(PANEL_X[2][0])),
           dict(left=X(PANEL_X[2][1])),
           dict(bottom=Y(TOP_Y[0])),
           dict(bottom=Y(BOT_Y[0]), top=Y(TOP_Y[1])),
           dict(top=Y(BOT_Y[1]))]:
    p.add_layout(BoxAnnotation(**kw, **white))


def style_axis(ax):
    ax.major_label_text_font = FONT
    ax.major_label_text_font_size = "12px"
    ax.major_label_text_color = TICK_TXT
    ax.major_label_standoff = 3
    ax.major_tick_out = 3
    ax.major_tick_in = 0
    ax.minor_tick_line_color = None
    ax.axis_line_color = AX
    ax.major_tick_line_color = AX


x_left = panel_lims[0][0]
ya = LinearAxis(fixed_location=x_left, bounds=(ylo1, yhi1), ticker=FixedTicker(ticks=ratio_ticks))
style_axis(ya)
p.add_layout(ya, "left")
yb = LinearAxis(y_range_name="pct", fixed_location=x_left, bounds=(ylo2, yhi2),
                ticker=FixedTicker(ticks=pct_ticks),
                major_label_overrides={t: s for t, s in zip(pct_ticks, pct_tick_labels)})
style_axis(yb)
p.add_layout(yb, "left")

for i, name in enumerate(NAMES):
    lo, hi = panel_lims[i]
    for yname, yloc in (("default", ylo1), ("pct", ylo2)):
        ax = LinearAxis(x_range_name=name, y_range_name=yname, fixed_location=yloc, bounds=(lo, hi),
                        ticker=FixedTicker(ticks=dticks[i]),
                        formatter=CustomJSTickFormatter(code="return ''"))
        style_axis(ax)
        ax.major_label_standoff = 0
        p.add_layout(ax, "below")

    # top row: scatter, smoothing band and line
    xs, ys = scatter[i]
    p.scatter(xs, ys, marker="square", angle=math.pi / 4, size=3.7, fill_color="black",
              line_color=None, x_range_name=name)
    fd, fv, flo, fhi = fits[i]
    p.varea(x=fd, y1=flo, y2=fhi, fill_color="#999999", fill_alpha=0.4, x_range_name=name)
    p.line(fd, fv, line_color="#6A6A6A", line_width=3.5, x_range_name=name)
    # top row borders (left / right sides)
    p.segment(x0=[lo, hi], y0=[ylo1, ylo1], x1=[lo, hi], y1=[yhi1, yhi1], x_range_name=name,
              line_color=AX, line_width=1, level="annotation")

    # bottom row: percentage line, border, rotated depth tick labels
    dx, dy = pct_lines[i]
    p.line(dx, dy, line_color="#FFD700", line_width=4.5, line_join="round",
           x_range_name=name, y_range_name="pct")
    p.add_layout(BoxAnnotation(left=lo, right=hi, bottom=ylo2, top=yhi2, x_range_name=name,
                               y_range_name="pct", fill_color=None, line_color=AX, line_alpha=1.0,
                               line_width=1))
    src = ColumnDataSource(dict(x=dticks[i], y=[ylo2] * len(dticks[i]), text=[str(t) for t in dticks[i]]))
    p.add_layout(LabelSet(x="x", y="y", text="text", source=src, x_range_name=name, y_range_name="pct",
                          angle=math.radians(30), text_align="center", text_baseline="top",
                          x_offset=2, y_offset=-5, text_font=value(FONT), text_font_size="12px",
                          text_color=TICK_TXT))

# axis titles
p.add_layout(Label(x=X(24), y=(ylo1 + yhi1) / 2, text=ratio_title, angle=math.pi / 2,
                   text_align="center", text_baseline="middle", text_font=FONT,
                   text_font_size="15px", text_color="black"))
p.add_layout(Label(x=X(24), y=(ylo2 + yhi2) / 2, y_range_name="pct", text=pct_title, angle=math.pi / 2,
                   text_align="center", text_baseline="middle", text_font=FONT,
                   text_font_size="15px", text_color="black"))
lo2, hi2 = panel_lims[1]
p.add_layout(Label(x=(lo2 + hi2) / 2, y=ylo2, x_range_name="p2", y_range_name="pct", y_offset=-41,
                   text=depth_title, text_align="center", text_baseline="middle", text_font=FONT,
                   text_font_size="15px", text_color="black"))

# "Pair A" bracket annotation (screen px converted to panel-1 coordinates)
br_px = [(155, 70), (155, 56), (156.2, 52.6), (159, 51.3), (368.3, 51.3), (371.1, 52.6), (372.3, 56), (372.3, 70)]
p.line([X(a) for a, _ in br_px], [Y(b) for _, b in br_px], line_color="black", line_width=4,
       line_join="round")
p.line([X(263.5)] * 2, [Y(51), Y(36)], line_color="black", line_width=2.5)
p.add_layout(Label(x=X(263.5), y=Y(21.5), text=pair_label, text_align="center",
                   text_baseline="middle", text_font="Liberation Serif", text_font_size="21px",
                   text_color="white", background_fill_color="black", background_fill_alpha=1.0,
                   border_radius=6, padding=(9, 3)))

open("out.html", "w").write(file_html(p, INLINE))
